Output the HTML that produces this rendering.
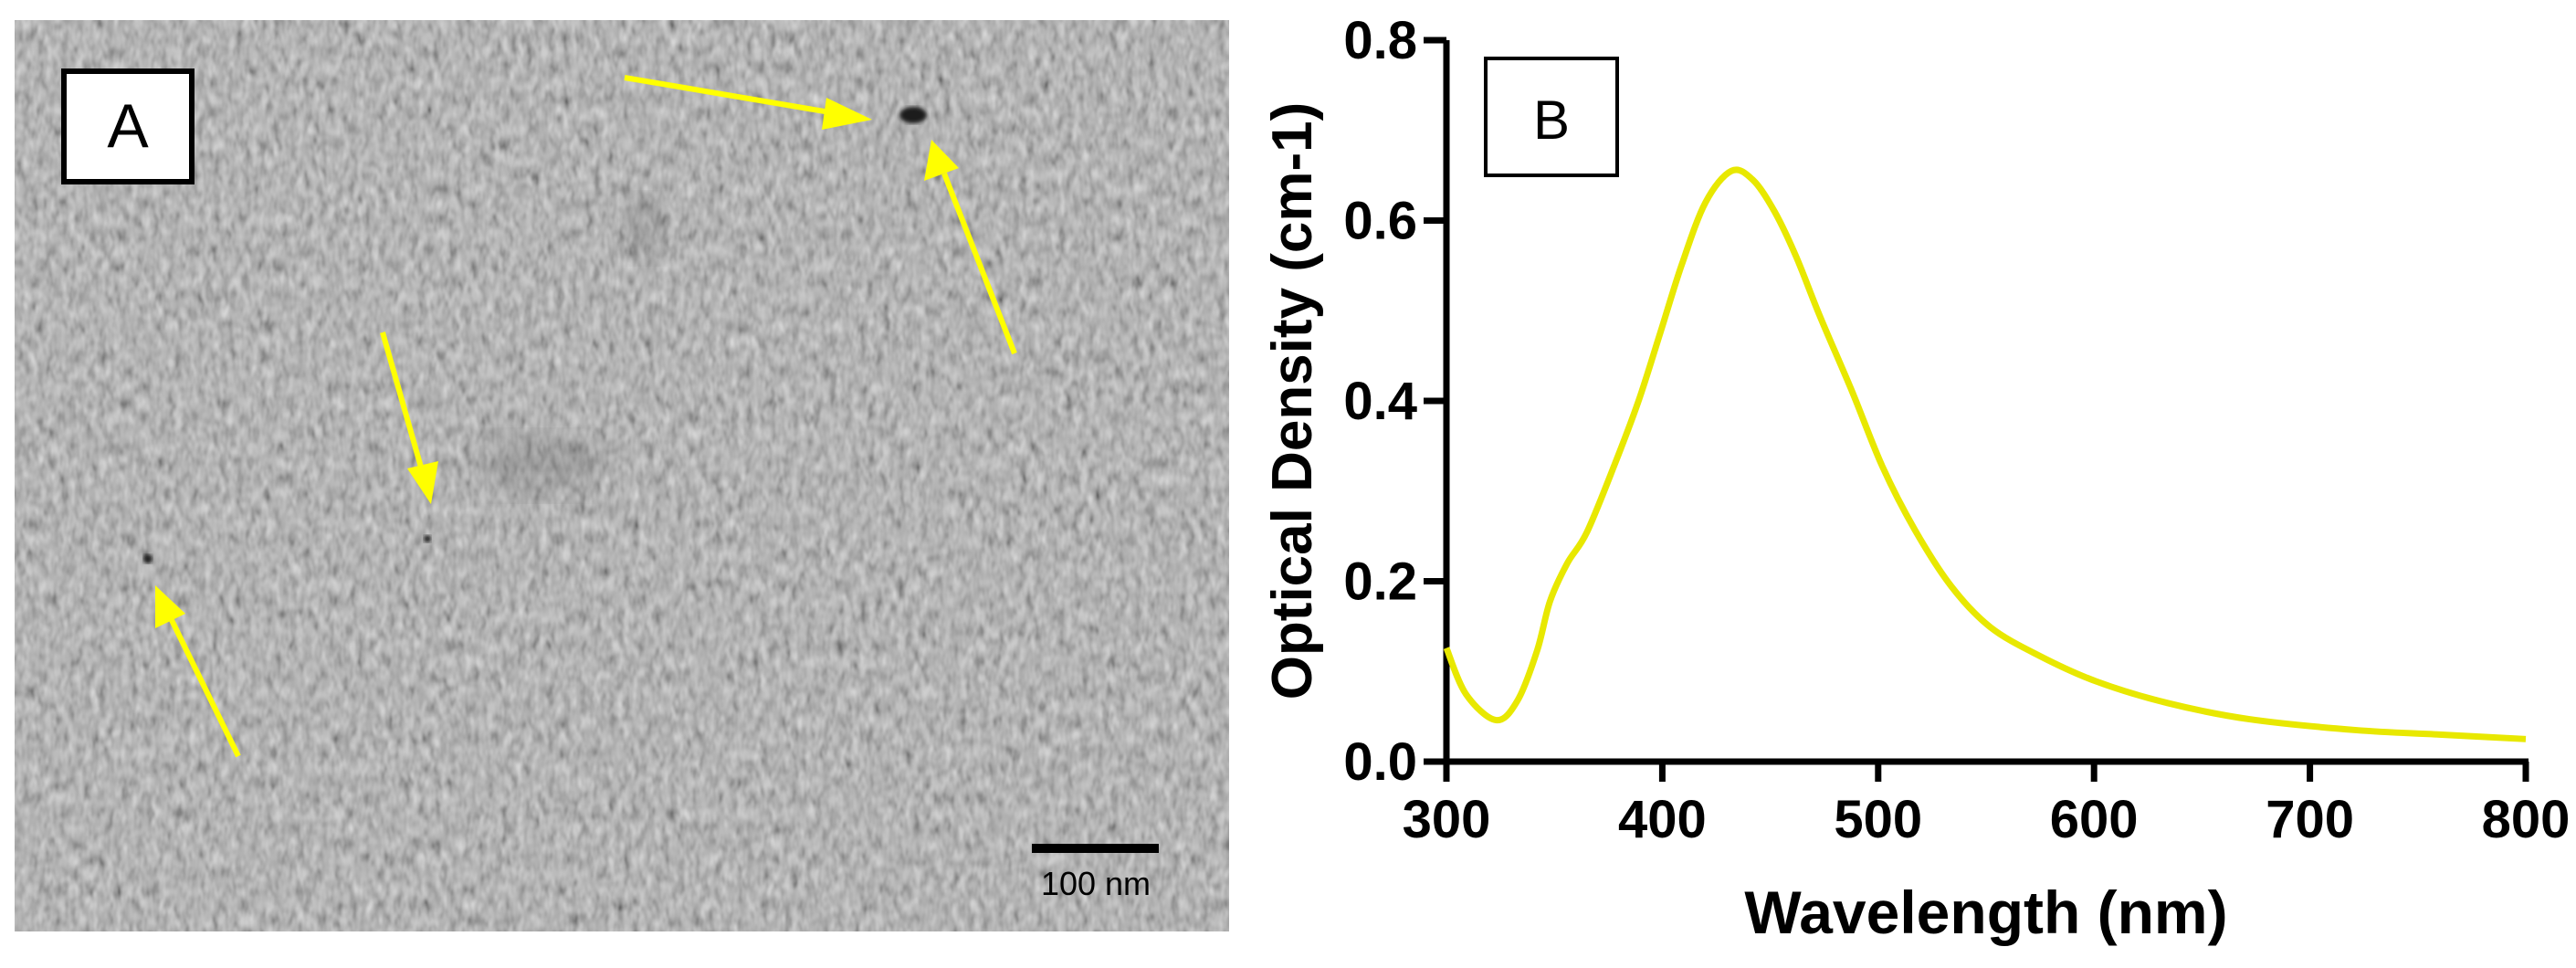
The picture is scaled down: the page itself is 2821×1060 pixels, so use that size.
<!DOCTYPE html>
<html><head><meta charset="utf-8">
<style>
html,body{margin:0;padding:0;background:#fff;}
body{width:2821px;height:1055px;overflow:hidden;position:relative;font-family:"Liberation Sans",Arial,sans-serif;}
</style></head>
<body>
<svg id="fig" width="2821" height="1055" viewBox="0 0 2821 1055" xmlns="http://www.w3.org/2000/svg">
  <defs>
    <filter id="tex" x="0" y="0" width="100%" height="100%">
      <feTurbulence type="fractalNoise" baseFrequency="0.12 0.06" numOctaves="2" seed="4" result="n"/>
      <feColorMatrix type="matrix" values="0.33 0.33 0.33 0 0  0.33 0.33 0.33 0 0  0.33 0.33 0.33 0 0  0 0 0 0 1" result="g"/>
      <feComponentTransfer in="g"><feFuncR type="linear" slope="1.6" intercept="-0.25"/><feFuncG type="linear" slope="1.6" intercept="-0.25"/><feFuncB type="linear" slope="1.6" intercept="-0.25"/></feComponentTransfer>
    </filter>
    <filter id="blur8"><feGaussianBlur stdDeviation="14"/></filter>
    <filter id="blur2"><feGaussianBlur stdDeviation="2"/></filter>
    <clipPath id="clipA"><rect x="16" y="22" width="1330" height="998"/></clipPath>
  </defs>

  <g clip-path="url(#clipA)">
    <rect x="16" y="22" width="1330" height="998" fill="#9c9c9c"/>
    <rect x="16" y="22" width="1330" height="998" filter="url(#tex)" opacity="0.6"/>
    <ellipse cx="705" cy="250" rx="22" ry="35" fill="#555" opacity="0.25" filter="url(#blur8)"/>
    <ellipse cx="594" cy="510" rx="70" ry="35" fill="#555" opacity="0.22" filter="url(#blur8)"/>
    <ellipse cx="1000" cy="126" rx="15" ry="9" fill="#1a1a1a" filter="url(#blur2)"/>
    <circle cx="162" cy="612" r="5" fill="#1a1a1a" filter="url(#blur2)"/>
    <circle cx="468" cy="590" r="4" fill="#1a1a1a" filter="url(#blur2)"/>
  </g>
  <g stroke="#ffff00" stroke-width="6" fill="#ffff00">
    <line x1="684" y1="85" x2="915" y2="124"/>
    <polygon points="955,131 905,107 900,142" stroke="none"/>
    <line x1="1111" y1="387" x2="1034" y2="190"/>
    <polygon points="1020,153 1012,198 1050,184" stroke="none"/>
    <line x1="419" y1="364" x2="462" y2="515"/>
    <polygon points="472,552 446,513 480,505" stroke="none"/>
    <line x1="261" y1="828" x2="186" y2="675"/>
    <polygon points="170,641 170,688 203,672" stroke="none"/>
  </g>
  <rect x="70" y="78" width="140" height="121" fill="#fff" stroke="#000" stroke-width="6"/>
  <text x="140" y="161" font-size="68" text-anchor="middle" fill="#000">A</text>
  <rect x="1130" y="924" width="139" height="10" fill="#000"/>
  <text x="1200" y="980" font-size="36" text-anchor="middle" fill="#000">100 nm</text>

  <rect x="1627" y="64" width="144" height="128" fill="#fff" stroke="#000" stroke-width="4"/>
  <text x="1699" y="152" font-size="60" text-anchor="middle" fill="#000">B</text>
  <g id="chart"></g>
</svg>
<script>
const wavelengths=[300,309,323,333,342,348,356,365,378,389,399,409,420,432,442,452,462,473,488,502,517,534,552,575,601,634,672,721,760,800];
const density=[0.126,0.075,0.046,0.068,0.123,0.178,0.22,0.254,0.33,0.40,0.475,0.551,0.62,0.655,0.645,0.61,0.56,0.494,0.41,0.327,0.257,0.194,0.149,0.117,0.089,0.065,0.047,0.035,0.03,0.025];
const xTicks=[300,400,500,600,700,800];
const yTicks=[0.0,0.2,0.4,0.6,0.8];
const yTickLabels=["0.0","0.2","0.4","0.6","0.8"];

const NS="http://www.w3.org/2000/svg";
const g=document.getElementById('chart');
const X0=1584,X1=2766,Y0=834,Y1=44;
function sx(v){return X0+(v-300)/500*(X1-X0);}
function sy(v){return Y0-(v/0.8)*(Y0-Y1);}
function mk(tag,attrs){const e=document.createElementNS(NS,tag);for(const k in attrs)e.setAttribute(k,attrs[k]);g.appendChild(e);return e;}

let yAxis=mk('line',{x1:X0,y1:Y1,x2:X0,y2:Y0+22,stroke:'#000','stroke-width':7});


let xAxis=mk('line',{x1:X0-25,y1:Y0,x2:X1+3,y2:Y0,stroke:'#000','stroke-width':7});



xTicks.forEach(function(t){
  const tk=mk('line',{x1:sx(t),y1:Y0,x2:sx(t),y2:Y0+22,stroke:'#000','stroke-width':7});
  
  
  const lb=mk('text',{x:sx(t),y:Y0+83,'font-size':58,'font-weight':'bold','text-anchor':'middle',fill:'#000'});
  lb.textContent=String(t);
  
  
});
yTicks.forEach(function(t,i){
  const tk=mk('line',{x1:X0-25,y1:sy(t),x2:X0,y2:sy(t),stroke:'#000','stroke-width':7});
  
  
  const lb=mk('text',{x:X0-32,y:sy(t)+20,'font-size':58,'font-weight':'bold','text-anchor':'end',fill:'#000'});
  lb.textContent=yTickLabels[i];
  
  
});
const xt=mk('text',{x:(X0+X1)/2,y:1022,'font-size':66,'font-weight':'bold','text-anchor':'middle',fill:'#000'});
xt.textContent='Wavelength (nm)';


const yt=mk('text',{x:0,y:0,'font-size':62,'font-weight':'bold','text-anchor':'middle',fill:'#000',transform:'translate(1436,'+((Y0+Y1)/2)+') rotate(-90)'});
yt.textContent='Optical Density (cm-1)';



const pts=wavelengths.map(function(w,i){return [sx(w),sy(density[i])];});
let d='M'+pts[0][0]+','+pts[0][1];
for(let i=0;i<pts.length-1;i++){
  const p0=pts[i-1]||pts[i],p1=pts[i],p2=pts[i+1],p3=pts[i+2]||p2;
  const c1=[p1[0]+(p2[0]-p0[0])/6,p1[1]+(p2[1]-p0[1])/6];
  const c2=[p2[0]-(p3[0]-p1[0])/6,p2[1]-(p3[1]-p1[1])/6];
  d+=' C'+c1[0]+','+c1[1]+' '+c2[0]+','+c2[1]+' '+p2[0]+','+p2[1];
}
const line=mk('path',{d:d,fill:'none',stroke:'#e8e800','stroke-width':7,'stroke-linejoin':'round'});


</script>
</body></html>
